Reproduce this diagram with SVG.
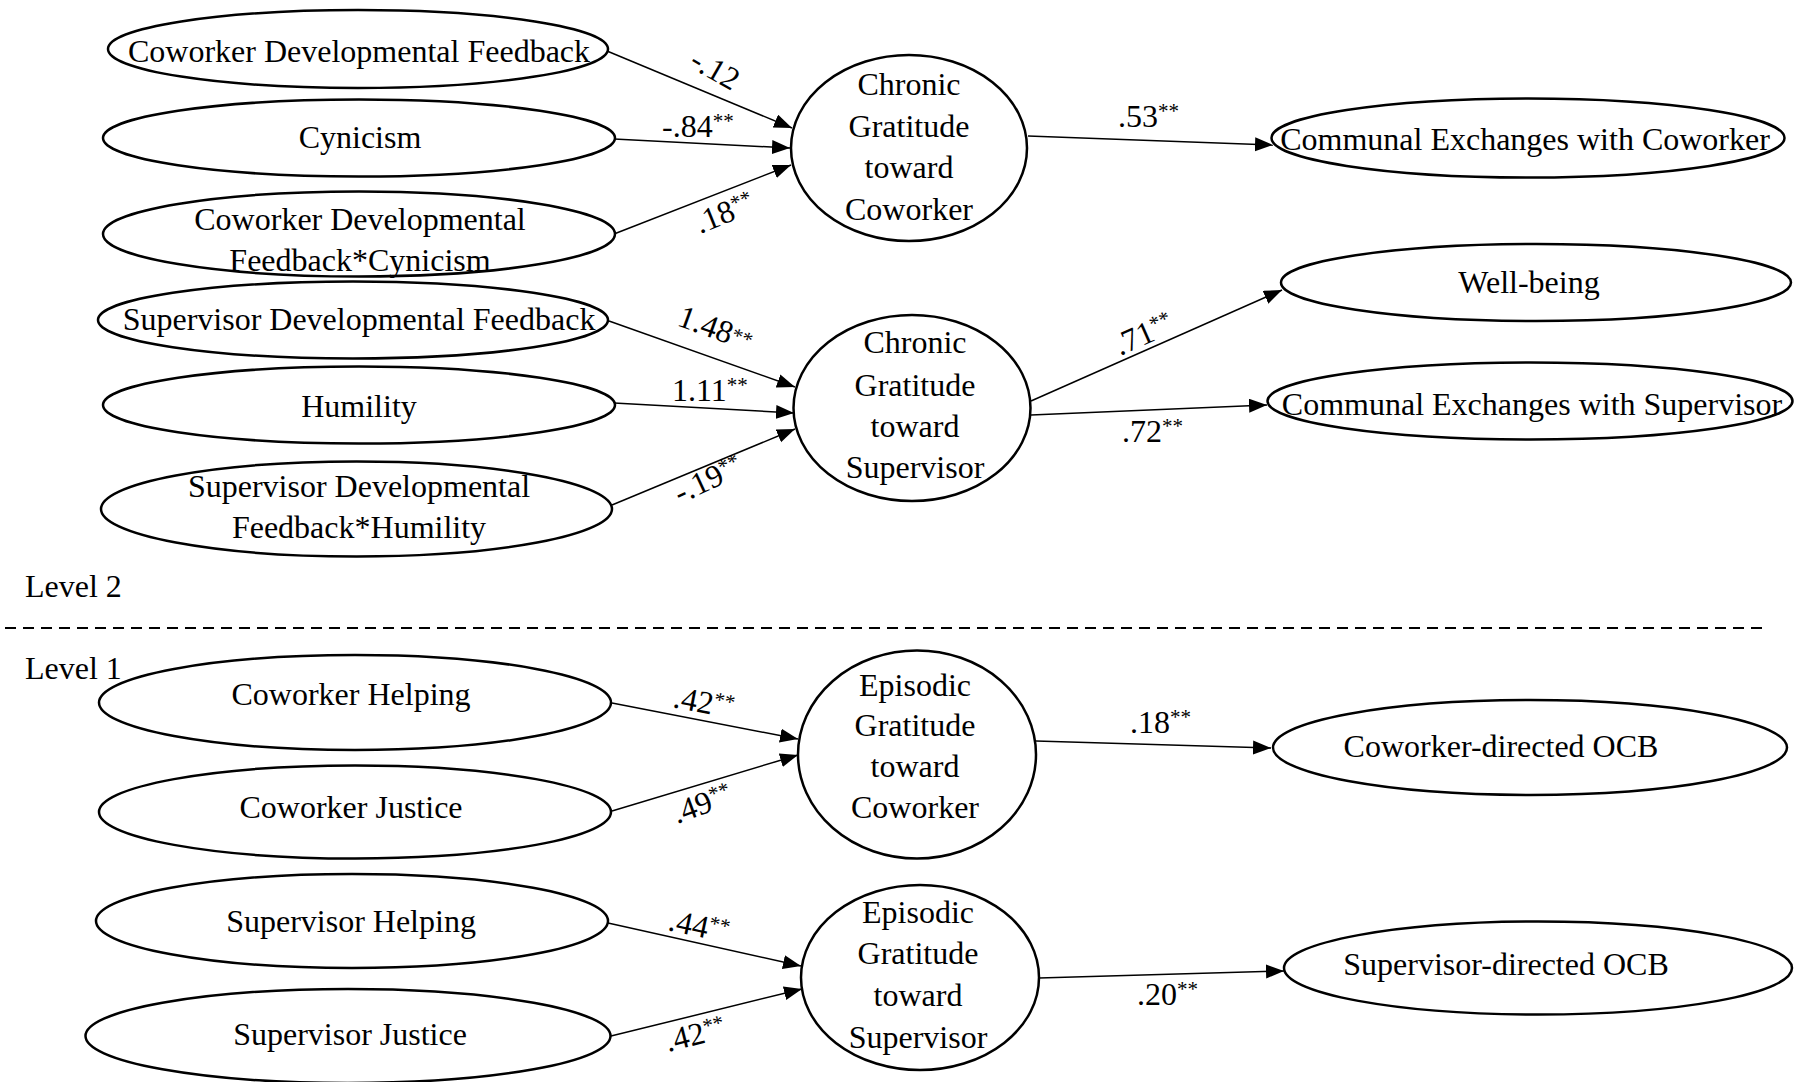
<svg xmlns="http://www.w3.org/2000/svg" width="1796" height="1082" viewBox="0 0 1796 1082">
<style>
  .node ellipse { fill: #ffffff; stroke: #000000; stroke-width: 2.5; }
  text { font-family: "Liberation Serif", "Times New Roman", serif; font-size: 32px; fill: #000000; }
  .c { text-anchor: middle; }
  .edge { stroke: #000000; stroke-width: 1.5; fill: none; marker-end: url(#arrow); }
  .sup { font-size: 21px; }
  .divider { stroke: #000000; stroke-width: 2; stroke-dasharray: 11 7; }
</style>
<defs>
  <marker id="arrow" markerUnits="userSpaceOnUse" markerWidth="20" markerHeight="16" refX="18" refY="7" orient="auto">
    <path d="M0,0 L18,7 L0,14 Z" fill="#000000"/>
  </marker>
</defs>
<rect x="0" y="0" width="1796" height="1082" fill="#ffffff"/>

<g id="connectors">
  <line class="edge" x1="607" y1="51" x2="792" y2="128"/>
  <line class="edge" x1="614" y1="139" x2="790" y2="148"/>
  <line class="edge" x1="614" y1="234" x2="791" y2="165"/>
  <line class="edge" x1="1028" y1="136" x2="1273" y2="145"/>
  <line class="edge" x1="609" y1="321" x2="795" y2="387"/>
  <line class="edge" x1="614" y1="403" x2="794" y2="413"/>
  <line class="edge" x1="612" y1="505" x2="795" y2="429"/>
  <line class="edge" x1="1031" y1="401" x2="1282" y2="290"/>
  <line class="edge" x1="1031" y1="415" x2="1267" y2="405"/>
  <line class="edge" x1="612" y1="703" x2="798" y2="739"/>
  <line class="edge" x1="612" y1="811" x2="798" y2="755"/>
  <line class="edge" x1="1036" y1="741" x2="1271" y2="748"/>
  <line class="edge" x1="608" y1="923" x2="801" y2="966"/>
  <line class="edge" x1="611" y1="1036" x2="802" y2="989"/>
  <line class="edge" x1="1039" y1="978" x2="1284" y2="971"/>
  <!-- coefficient labels -->
  <text transform="rotate(30 688 66)" x="688" y="66">-.12</text>
  <text x="662" y="137">-.84<tspan class="sup" dy="-9">**</tspan></text>
  <text transform="rotate(-22 700 234)" x="700" y="234">.18<tspan class="sup" dy="-9">**</tspan></text>
  <text x="1118" y="127">.53<tspan class="sup" dy="-9">**</tspan></text>
  <text transform="rotate(20 676 325)" x="676" y="325">1.48<tspan class="sup" dy="-4">**</tspan></text>
  <text x="672" y="401">1.11<tspan class="sup" dy="-9">**</tspan></text>
  <text transform="rotate(-25 680 504)" x="680" y="504">-.19<tspan class="sup" dy="-9">**</tspan></text>
  <text transform="rotate(-24 1120 356)" x="1120" y="356">.71<tspan class="sup" dy="-9">**</tspan></text>
  <text x="1122" y="442">.72<tspan class="sup" dy="-9">**</tspan></text>
  <text transform="rotate(11 672 707)" x="672" y="707">.42<tspan class="sup" dy="-9">**</tspan></text>
  <text transform="rotate(-20 677 824)" x="677" y="824">.49<tspan class="sup" dy="-9">**</tspan></text>
  <text x="1130" y="733">.18<tspan class="sup" dy="-9">**</tspan></text>
  <text transform="rotate(12 667 930)" x="667" y="930">.44<tspan class="sup" dy="-9">**</tspan></text>
  <text transform="rotate(-14 668 1052)" x="668" y="1052">.42<tspan class="sup" dy="-9">**</tspan></text>
  <text x="1137" y="1005">.20<tspan class="sup" dy="-9">**</tspan></text>
</g>

<g id="levels">
  <text x="25" y="597">Level 2</text>
  <line class="divider" x1="5" y1="628" x2="1766" y2="628"/>
  <text x="25" y="679">Level 1</text>
</g>

<g id="n-cdf" class="node">
  <ellipse cx="358" cy="49" rx="250" ry="39"/>
  <text class="c" x="359" y="62">Coworker Developmental Feedback</text>
</g>
<g id="n-cynicism" class="node">
  <ellipse cx="359" cy="138" rx="256" ry="38.5"/>
  <text class="c" x="360" y="148">Cynicism</text>
</g>
<g id="n-cdf-cyn" class="node">
  <ellipse cx="359" cy="234" rx="256" ry="42.5"/>
  <text class="c" x="360" y="230">Coworker Developmental</text>
  <text class="c" x="360" y="271">Feedback*Cynicism</text>
</g>
<g id="n-sdf" class="node">
  <ellipse cx="353" cy="320" rx="255" ry="38.5"/>
  <text class="c" x="359" y="330">Supervisor Developmental Feedback</text>
</g>
<g id="n-humility" class="node">
  <ellipse cx="359" cy="405" rx="256" ry="38.5"/>
  <text class="c" x="359" y="417">Humility</text>
</g>
<g id="n-sdf-hum" class="node">
  <ellipse cx="356.5" cy="509" rx="255.5" ry="47.5"/>
  <text class="c" x="359" y="497">Supervisor Developmental</text>
  <text class="c" x="359" y="538">Feedback*Humility</text>
</g>
<g id="n-cg-cow" class="node">
  <ellipse cx="909" cy="148" rx="118" ry="93"/>
  <text class="c" x="909" y="95">Chronic</text>
  <text class="c" x="909" y="137">Gratitude</text>
  <text class="c" x="909" y="178">toward</text>
  <text class="c" x="909" y="220">Coworker</text>
</g>
<g id="n-cg-sup" class="node">
  <ellipse cx="912" cy="408" rx="118.5" ry="93"/>
  <text class="c" x="915" y="353">Chronic</text>
  <text class="c" x="915" y="396">Gratitude</text>
  <text class="c" x="915" y="437">toward</text>
  <text class="c" x="915" y="478">Supervisor</text>
</g>
<g id="n-ce-cow" class="node">
  <ellipse cx="1528" cy="138" rx="256.5" ry="39.5"/>
  <text class="c" x="1525" y="150">Communal Exchanges with Coworker</text>
</g>
<g id="n-wellbeing" class="node">
  <ellipse cx="1536" cy="282.5" rx="255" ry="38.5"/>
  <text class="c" x="1529" y="293">Well-being</text>
</g>
<g id="n-ce-sup" class="node">
  <ellipse cx="1530" cy="401" rx="262.5" ry="38.5"/>
  <text class="c" x="1532" y="415">Communal Exchanges with Supervisor</text>
</g>
<g id="n-cow-help" class="node">
  <ellipse cx="355" cy="702.5" rx="256" ry="47.5"/>
  <text class="c" x="351" y="705">Coworker Helping</text>
</g>
<g id="n-cow-just" class="node">
  <ellipse cx="355" cy="812" rx="256" ry="46.5"/>
  <text class="c" x="351" y="818">Coworker Justice</text>
</g>
<g id="n-sup-help" class="node">
  <ellipse cx="352" cy="921" rx="256" ry="47"/>
  <text class="c" x="351" y="932">Supervisor Helping</text>
</g>
<g id="n-sup-just" class="node">
  <ellipse cx="348" cy="1036" rx="262.5" ry="47"/>
  <text class="c" x="350" y="1045">Supervisor Justice</text>
</g>
<g id="n-eg-cow" class="node">
  <ellipse cx="917" cy="754.5" rx="119" ry="104"/>
  <text class="c" x="915" y="696">Episodic</text>
  <text class="c" x="915" y="736">Gratitude</text>
  <text class="c" x="915" y="777">toward</text>
  <text class="c" x="915" y="818">Coworker</text>
</g>
<g id="n-eg-sup" class="node">
  <ellipse cx="920" cy="977.5" rx="119" ry="92.5"/>
  <text class="c" x="918" y="923">Episodic</text>
  <text class="c" x="918" y="964">Gratitude</text>
  <text class="c" x="918" y="1006">toward</text>
  <text class="c" x="918" y="1048">Supervisor</text>
</g>
<g id="n-cow-ocb" class="node">
  <ellipse cx="1530" cy="747.5" rx="257" ry="47.5"/>
  <text class="c" x="1501" y="757">Coworker-directed OCB</text>
</g>
<g id="n-sup-ocb" class="node">
  <ellipse cx="1538" cy="968" rx="254" ry="46.5"/>
  <text class="c" x="1506" y="975">Supervisor-directed OCB</text>
</g>
</svg>
